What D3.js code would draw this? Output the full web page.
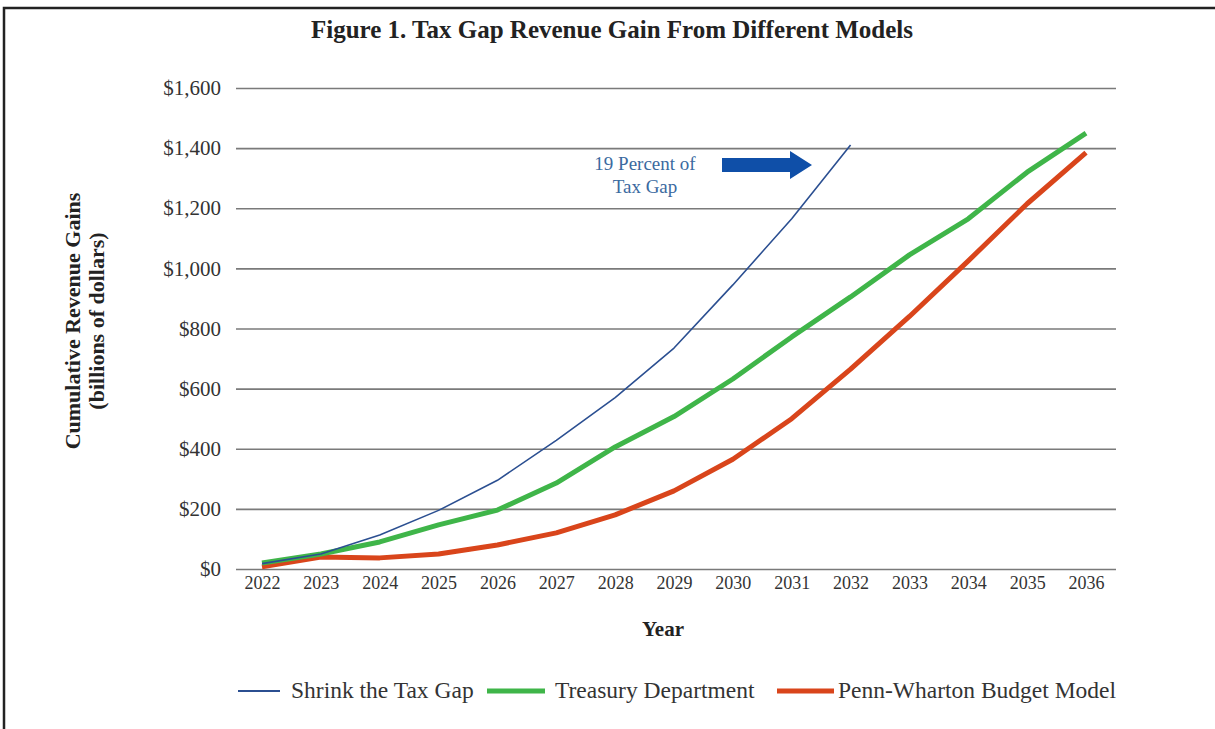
<!DOCTYPE html>
<html>
<head>
<meta charset="utf-8">
<script src="https://cdn.jsdelivr.net/npm/d3@7"></script>
<style>
  body { margin: 0; background: #fff; }
  svg { display: block; }
  svg text { font-family: "Liberation Serif", "Times New Roman", serif; }
</style>
</head>
<body>
<div id="chart"></div>
<script>
// data (billions of dollars, cumulative)
const years = [2022, 2023, 2024, 2025, 2026, 2027, 2028, 2029, 2030, 2031, 2032, 2033, 2034, 2035, 2036];
const shrinkYears = years.slice(0, 11);
const shrinkValues = [18, 50, 113, 195, 295, 428, 570, 735, 945, 1165, 1410];
const treasuryValues = [20, 50, 90, 147, 196, 286, 406, 507, 632, 772, 905, 1045, 1165, 1320, 1450];
const pennValues = [7, 40, 37, 50, 80, 120, 180, 260, 365, 500, 665, 840, 1025, 1215, 1385];
const yTicks = [0, 200, 400, 600, 800, 1000, 1200, 1400, 1600];
const seriesNames = ["Shrink the Tax Gap", "Treasury Department", "Penn-Wharton Budget Model"];
const seriesColors = ["#2b4f91", "#3fb549", "#d9451b"];
const seriesWidths = [1.6, 5, 5];

const W = 1215, H = 729;
const plotLeft = 236, plotRight = 1116;

const svg = d3.select("#chart").append("svg")
    .attr("width", W)
    .attr("height", H);

// frame (top and left rule)
svg.append("path")
    .attr("d", `M4,${H} L4,8 L${W},8`)
    .attr("fill", "none")
    .attr("stroke", "#222")
    .attr("stroke-width", 2.5);

// scales
const x = d3.scaleLinear().domain([2022, 2036]).range([262, 1086]);
const y = d3.scaleLinear().domain([0, 1600]).range([569, 88]);

// title
svg.append("text")
    .attr("x", 612)
    .attr("y", 38)
    .attr("text-anchor", "middle")
    .style("font-size", "25px")
    .style("font-weight", "bold")
    .attr("fill", "#222")
    .text("Figure 1. Tax Gap Revenue Gain From Different Models");

// y axis with gridlines
const yAxis = svg.append("g")
    .attr("transform", `translate(${plotLeft},0)`)
    .call(d3.axisLeft(y)
        .tickValues(yTicks)
        .tickSize(-(plotRight - plotLeft))
        .tickPadding(15)
        .tickFormat(d => "$" + d3.format(",")(d)));
yAxis.select(".domain").remove();
yAxis.selectAll(".tick line")
    .attr("stroke", "#7a7a7a")
    .attr("stroke-width", 1.6);
yAxis.selectAll(".tick text")
    .style("font-size", "21px")
    .attr("fill", "#333");

// x axis labels
const xAxis = svg.append("g")
    .attr("transform", `translate(0,${y(0)})`)
    .call(d3.axisBottom(x)
        .tickValues(years)
        .tickSize(0)
        .tickPadding(7)
        .tickFormat(d3.format("d")));
xAxis.select(".domain").remove();
xAxis.selectAll(".tick text")
    .style("font-size", "18px")
    .attr("fill", "#333");

// axis titles
svg.append("text")
    .attr("x", 663)
    .attr("y", 636)
    .attr("text-anchor", "middle")
    .style("font-size", "21px")
    .style("font-weight", "bold")
    .attr("fill", "#222")
    .text("Year");

const yTitle = svg.append("text")
    .attr("transform", "translate(80,321) rotate(-90)")
    .attr("text-anchor", "middle")
    .style("font-size", "22px")
    .style("font-weight", "bold")
    .attr("fill", "#222");
yTitle.append("tspan").attr("x", 0).attr("y", 0).text("Cumulative Revenue Gains");
yTitle.append("tspan").attr("x", 0).attr("y", 24).text("(billions of dollars)");

// lines
const line = d3.line()
    .x(d => x(d[0]))
    .y(d => y(d[1]));

const seriesData = [
    d3.zip(shrinkYears, shrinkValues),
    d3.zip(years, treasuryValues),
    d3.zip(years, pennValues)
];

// draw the thick ones first, the thin blue on top
[2, 1, 0].forEach(i => {
    svg.append("path")
        .datum(seriesData[i])
        .attr("d", line)
        .attr("fill", "none")
        .attr("stroke", seriesColors[i])
        .attr("stroke-width", seriesWidths[i])
        .attr("stroke-linejoin", "round");
});

// annotation
const note = svg.append("text")
    .attr("text-anchor", "middle")
    .style("font-size", "19px")
    .attr("fill", "#3b6aa0");
note.append("tspan").attr("x", 645).attr("y", 170).text("19 Percent of");
note.append("tspan").attr("x", 645).attr("y", 193).text("Tax Gap");

// block arrow pointing at the blue line
const ax0 = 722, ax1 = 812, ay = 165;
svg.append("path")
    .attr("d", `M${ax0},${ay - 7} L${ax1 - 22},${ay - 7} L${ax1 - 22},${ay - 14} L${ax1},${ay} ` +
               `L${ax1 - 22},${ay + 14} L${ax1 - 22},${ay + 7} L${ax0},${ay + 7} Z`)
    .attr("fill", "#0f4fa8");

// legend
const legendItems = [
    { x1: 238, x2: 280, tx: 291 },
    { x1: 487, x2: 545, tx: 555 },
    { x1: 777, x2: 834, tx: 838 }
];
const legend = svg.append("g").attr("transform", "translate(0,691)");
legendItems.forEach((it, i) => {
    legend.append("line")
        .attr("x1", it.x1).attr("x2", it.x2)
        .attr("y1", 0).attr("y2", 0)
        .attr("stroke", seriesColors[i])
        .attr("stroke-width", i === 0 ? 2 : 5);
    legend.append("text")
        .attr("x", it.tx)
        .attr("y", 7)
        .style("font-size", "23.5px")
        .attr("fill", "#333")
        .text(seriesNames[i]);
});
</script>
</body>
</html>
